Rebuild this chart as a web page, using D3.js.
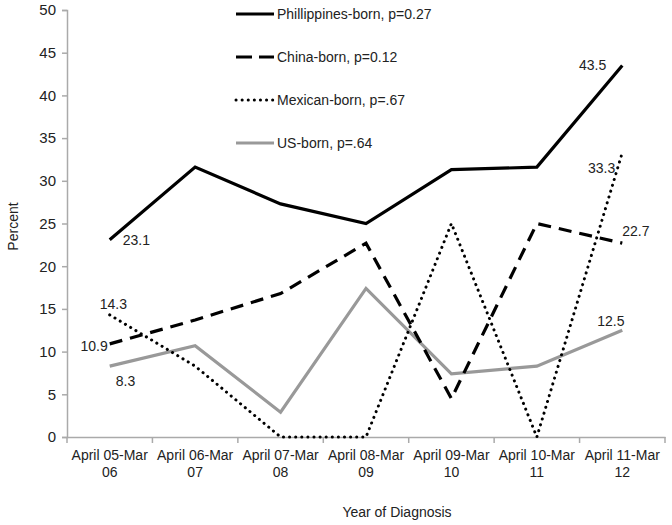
<!DOCTYPE html>
<html><head><meta charset="utf-8">
<script src="https://cdn.jsdelivr.net/npm/d3@7"></script>
<style>body{margin:0;background:#fff}text{font-family:"Liberation Sans",Arial,sans-serif}</style>
</head><body><svg id="c" width="672" height="525"></svg>
<script>
const categories = ["April 05-Mar 06","April 06-Mar 07","April 07-Mar 08","April 08-Mar 09","April 09-Mar 10","April 10-Mar 11","April 11-Mar 12"];
const philippines = [23.1,31.6,27.3,25.0,31.3,31.6,43.5];
const china = [10.9,13.7,16.8,22.7,4.5,25.0,22.7];
const mexican = [14.3,8.3,0,0,25.0,0,33.3];
const usborn = [8.3,10.7,2.9,17.4,7.4,8.3,12.5];
const seriesNames = ["Phillippines-born, p=0.27","China-born, p=0.12","Mexican-born, p=.67","US-born, p=.64"];
const yTicks = [0,5,10,15,20,25,30,35,40,45,50];

const svg = d3.select("#c");
const pLeft=67, pRight=665, pTop=10, pBottom=437;
const x = d3.scaleBand().domain(categories).range([pLeft,pRight]);
const y = d3.scaleLinear().domain([0,50]).range([pBottom,pTop]);
const axisColor="#aaa";

// y axis
const ya = svg.append("g").attr("transform",`translate(${pLeft},0)`)
  .call(d3.axisLeft(y).tickValues(yTicks).tickSize(5).tickPadding(6));
ya.select(".domain").attr("stroke",axisColor).attr("stroke-width",1.5);
ya.selectAll(".tick line").attr("stroke",axisColor).attr("stroke-width",1.5);
ya.selectAll("text").attr("font-size",15).attr("fill","#222").attr("font-family","Liberation Sans, Arial");

// x axis
const xa = svg.append("g").attr("transform",`translate(0,${pBottom})`)
  .call(d3.axisBottom(x).tickSize(0).tickFormat(""));
xa.select(".domain").attr("stroke",axisColor).attr("stroke-width",1.5);
const bounds = categories.map(c=>x(c)).concat([x(categories[categories.length-1])+x.bandwidth()]);
svg.append("g").selectAll("line").data(bounds).join("line")
  .attr("x1",d=>d).attr("x2",d=>d).attr("y1",pBottom).attr("y2",pBottom+6)
  .attr("stroke",axisColor).attr("stroke-width",1.5);
const xl = svg.append("g").selectAll("text").data(categories).join("text")
  .attr("x",d=>x(d)+x.bandwidth()/2).attr("text-anchor","middle")
  .attr("font-size",14).attr("fill","#222");
xl.each(function(d){
  const parts = d.split(" ");
  const t=d3.select(this);
  t.append("tspan").attr("x",x(d)+x.bandwidth()/2).attr("y",pBottom+23).text(parts[0]+" "+parts[1]);
  t.append("tspan").attr("x",x(d)+x.bandwidth()/2).attr("y",pBottom+40).text(parts[2]);
});

// axis titles
svg.append("text").attr("transform",`translate(18,${(pTop+pBottom)/2+3}) rotate(-90)`)
  .attr("text-anchor","middle").attr("font-size",14).attr("fill","#222").text("Percent");
svg.append("text").attr("x",397).attr("y",517).attr("text-anchor","middle")
  .attr("font-size",14).attr("fill","#222").text("Year of Diagnosis");

const cx = d=>x(d)+x.bandwidth()/2;
const line = d3.line().x((d,i)=>cx(categories[i])).y(d=>y(d));
const styles = [
  {data:philippines,stroke:"#000",w:3.2,dash:null,cap:"butt"},
  {data:china,stroke:"#000",w:3.2,dash:"13,8",cap:"butt"},
  {data:mexican,stroke:"#000",w:3,dash:"0.1,6",cap:"round"},
  {data:usborn,stroke:"#999",w:3.2,dash:null,cap:"butt"}
];
[3,2,1,0].forEach(k=>{
  const s=styles[k];
  svg.append("path").datum(s.data).attr("d",line).attr("fill","none")
    .attr("stroke",s.stroke).attr("stroke-width",s.w)
    .attr("stroke-dasharray",s.dash).attr("stroke-linecap",s.cap).attr("stroke-linejoin","miter");
});

// data labels
const labels = [
  {s:philippines,i:0,dx:13,dy:5,anchor:"start"},
  {s:philippines,i:6,dx:-16,dy:4,anchor:"end"},
  {s:china,i:0,dx:-2,dy:7,anchor:"end"},
  {s:china,i:6,dx:0,dy:-7,anchor:"start"},
  {s:mexican,i:0,dx:-10,dy:-6,anchor:"start"},
  {s:mexican,i:6,dx:-7,dy:20,anchor:"end"},
  {s:usborn,i:0,dx:6,dy:20,anchor:"start"},
  {s:usborn,i:6,dx:-25,dy:-4,anchor:"start"}
];
svg.append("g").selectAll("text").data(labels).join("text")
  .attr("x",d=>cx(categories[d.i])+d.dx).attr("y",d=>y(d.s[d.i])+d.dy)
  .attr("text-anchor",d=>d.anchor).attr("font-size",14).attr("fill","#222")
  .text(d=>d.s[d.i].toFixed(1));

// legend
const lg = svg.append("g");
styles.forEach((s,k)=>{
  const yy = 14+k*43;
  lg.append("line").attr("x1",236).attr("x2",274).attr("y1",yy).attr("y2",yy)
    .attr("stroke",s.stroke).attr("stroke-width",s.w)
    .attr("stroke-dasharray",k===1?"16,7":s.dash).attr("stroke-linecap",s.cap);
  lg.append("text").attr("x",277).attr("y",yy+5).attr("font-size",14).attr("fill","#222").text(seriesNames[k]);
});
</script></body></html>
